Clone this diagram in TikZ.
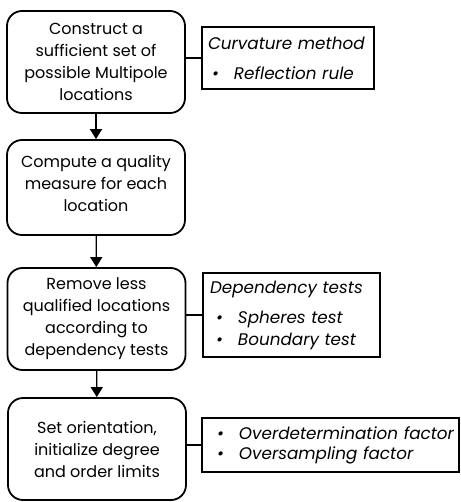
\documentclass[tikz,border=0pt]{standalone}
\usepackage{fontspec}
\setmainfont{Poppins}
\usetikzlibrary{arrows.meta}
\newcommand{\bul}[2][4pt]{\mbox{\hspace*{#1}\makebox[22pt][l]{\textbullet}#2}}
\begin{document}
\begin{tikzpicture}[x=1pt,y=-1pt,
  mainbox/.style={draw, line width=1.8pt, rounded corners=15pt, align=center,
    inner sep=0pt, minimum width=178pt, font=\fontsize{16}{22}\selectfont},
  sidebox/.style={draw, line width=1.4pt, align=left, inner ysep=0pt,
    font=\fontsize{16.8}{22}\selectfont\itshape},
  link/.style={line width=1.3pt},
  arr/.style={line width=1.3pt, -{Triangle[length=10pt,width=12pt]}}
]
\useasboundingbox (0,0) rectangle (460,502);
\node[mainbox, minimum height=102pt] (b1) at (96,62)
  {Construct a\\sufficient set of\\possible Multipole\\locations};
\node[mainbox, minimum height=95pt] (b2) at (96,187.5)
  {\raisebox{0pt}[0pt][0pt]{\parbox{170pt}{\centering Compute a quality\\measure for each\\location}}};
\node[mainbox, minimum height=102pt] (b3) at (96.5,319)
  {Remove less\\qualified locations\\according to\\dependency tests};
\node[mainbox, minimum height=102pt] (b4) at (97,449)
  {Set orientation,\\initialize degree\\and order limits};
\node[sidebox, minimum width=172pt, minimum height=62pt, inner xsep=6pt,
  text width=160pt] (s1) at (288,58)
  {Curvature method\\[8pt]\bul{Reflection rule}};
\node[sidebox, minimum width=177pt, minimum height=84pt, inner xsep=7pt,
  text width=163pt] (s3) at (291.5,315)
  {Dependency tests\\[8pt]\bul[6pt]{Spheres test}\\\bul[6pt]{Boundary test}};
\node[sidebox, minimum width=257pt, minimum height=54pt, inner xsep=6pt,
  text width=245pt] (s4) at (330.5,445)
  {\bul[9pt]{Overdetermination factor}\\[-2pt]\bul[9pt]{Oversampling factor}};
\draw[arr] (b1) -- (b2);
\draw[arr] (b2) -- (b3);
\draw[arr] (b3) -- (b4);
\draw[link] (s1.west) -- (s1.west -| b1.east);
\draw[link] (s3.west) -- (s3.west -| b3.east);
\draw[link] (s4.west) -- (s4.west -| b4.east);
\end{tikzpicture}
\end{document}
